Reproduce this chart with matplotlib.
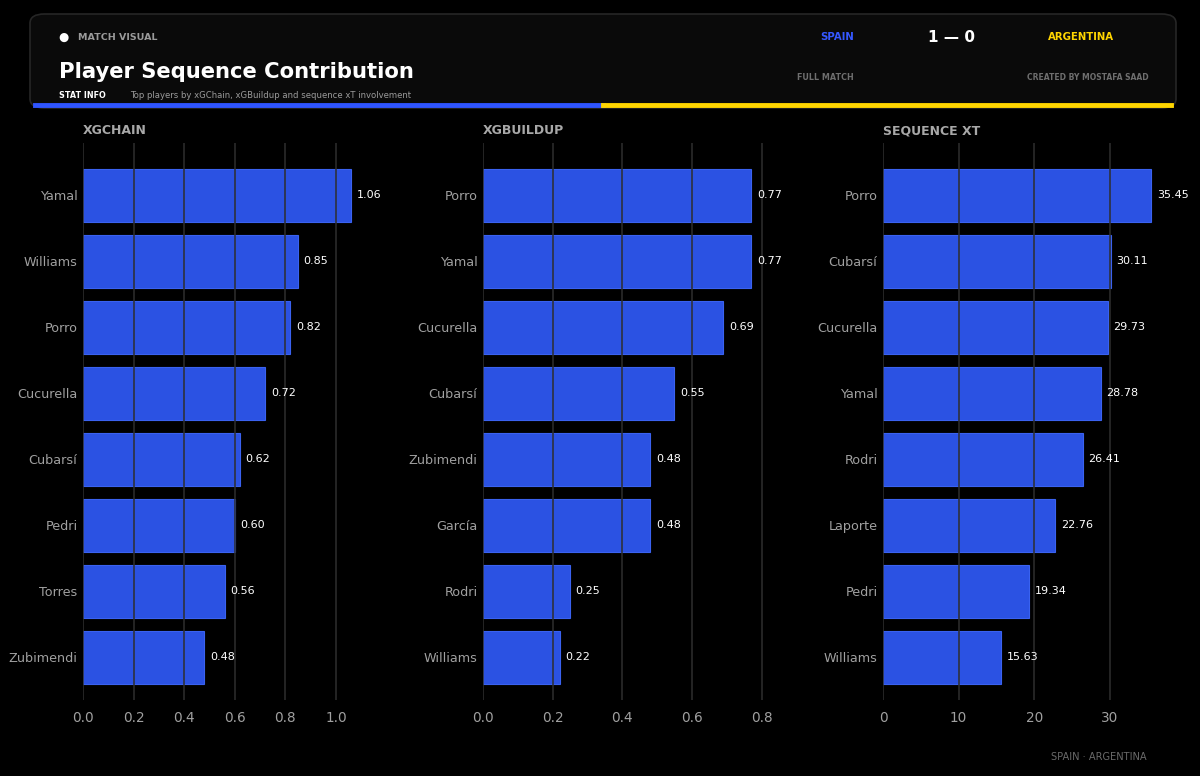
import matplotlib.pyplot as plt
from matplotlib.patches import FancyBboxPatch

# data
xgchain_players = ["Yamal", "Williams", "Porro", "Cucurella", "Cubarsí", "Pedri", "Torres", "Zubimendi"]
xgchain_values = [1.06, 0.85, 0.82, 0.72, 0.62, 0.60, 0.56, 0.48]

xgbuildup_players = ["Porro", "Yamal", "Cucurella", "Cubarsí", "Zubimendi", "García", "Rodri", "Williams"]
xgbuildup_values = [0.77, 0.77, 0.69, 0.55, 0.48, 0.48, 0.25, 0.22]

seqxt_players = ["Porro", "Cubarsí", "Cucurella", "Yamal", "Rodri", "Laporte", "Pedri", "Williams"]
seqxt_values = [35.45, 30.11, 29.73, 28.78, 26.41, 22.76, 19.34, 15.63]

BLUE = "#2b52e3"
YELLOW = "#ffd500"

fig = plt.figure(figsize=(12, 7.76), dpi=100)
fig.patch.set_facecolor("black")

W, H = 1200, 776


def fx(px):
    return px / W


def fy(py):
    return 1 - py / H


# header card
card = FancyBboxPatch((fx(30), fy(108)), fx(1176) - fx(30), fy(14) - fy(108),
                      boxstyle="round,pad=0,rounding_size=0.012",
                      transform=fig.transFigure, facecolor="#0a0a0a",
                      edgecolor="#262626", linewidth=1.2)
fig.patches.append(card)
fig.add_artist(plt.Line2D([fx(35), fx(603)], [fy(105), fy(105)], color="#2f55ff", lw=3.5,
                          transform=fig.transFigure))
fig.add_artist(plt.Line2D([fx(603), fx(1171)], [fy(105), fy(105)], color=YELLOW, lw=3.5,
                          transform=fig.transFigure))

fig.text(fx(58), fy(37), "●", color="white", fontsize=8.5, va="center")
fig.text(fx(78), fy(37), "MATCH VISUAL", color="#9a9a9a", fontsize=6.8, fontweight="bold", va="center")
fig.text(fx(59), fy(72), "Player Sequence Contribution", color="white", fontsize=15.2,
         fontweight="bold", va="center")
fig.text(fx(59), fy(95), "STAT INFO", color="white", fontsize=5.8, fontweight="bold", va="center")
fig.text(fx(130), fy(95), "Top players by xGChain, xGBuildup and sequence xT involvement",
         color="#9a9a9a", fontsize=6.1, va="center")

fig.text(fx(837), fy(37), "SPAIN", color="#3558ff", fontsize=7.3, fontweight="bold",
         ha="center", va="center")
fig.text(fx(951), fy(37), "1 — 0", color="white", fontsize=11, fontweight="bold",
         ha="center", va="center")
fig.text(fx(1081), fy(37), "ARGENTINA", color=YELLOW, fontsize=7.3, fontweight="bold",
         ha="center", va="center")
fig.text(fx(825), fy(77), "FULL MATCH", color="#6e6e6e", fontsize=5.8, fontweight="bold",
         ha="center", va="center")
fig.text(fx(1088), fy(77), "CREATED BY MOSTAFA SAAD", color="#6e6e6e", fontsize=5.5,
         fontweight="bold", ha="center", va="center")

fig.text(fx(1147), fy(757), "SPAIN · ARGENTINA", color="#6a6a6a", fontsize=7.1,
         ha="right", va="center")

panels = [
    ("XGCHAIN", xgchain_players, xgchain_values, [0, 0.2, 0.4, 0.6, 0.8, 1.0], "{:.1f}", 83),
    ("XGBUILDUP", xgbuildup_players, xgbuildup_values, [0, 0.2, 0.4, 0.6, 0.8], "{:.1f}", 483),
    ("SEQUENCE XT", seqxt_players, seqxt_values, [0, 10, 20, 30], "{:.0f}", 883),
]

for title, players, values, ticks, fmt, left in panels:
    ax = fig.add_axes([fx(left), fy(700), fx(315), fy(143) - fy(700)])
    ax.set_facecolor("black")
    ypos = list(range(len(players)))
    ax.barh(ypos, values, height=0.8, color=BLUE, edgecolor="#3a62f0", linewidth=0.8, zorder=2)
    xmax = max(values) * 1.175
    ax.set_xlim(0, xmax)
    ax.set_ylim(7.65, -0.79)
    ax.set_yticks(ypos)
    ax.set_yticklabels(players)
    ax.set_xticks(ticks)
    ax.set_xticklabels([fmt.format(t) for t in ticks])
    for t in ticks:
        ax.axvline(t, color="#2e2e2e", lw=1.1, zorder=3)
    ax.tick_params(axis="y", colors="#a0a0a0", labelsize=9.2, length=0, pad=4)
    ax.tick_params(axis="x", colors="#a0a0a0", labelsize=9.8, length=0, pad=8)
    for s in ax.spines.values():
        s.set_visible(False)
    for y, v in zip(ypos, values):
        ax.text(v + xmax * 0.018, y, f"{v:.2f}", color="white", fontsize=8,
                va="center", ha="left", zorder=4)
    fig.text(fx(left), fy(131), title, color="#a8a8a8", fontsize=9, fontweight="bold",
             va="center")

fig.savefig("out.png", dpi=100, facecolor=fig.get_facecolor())
